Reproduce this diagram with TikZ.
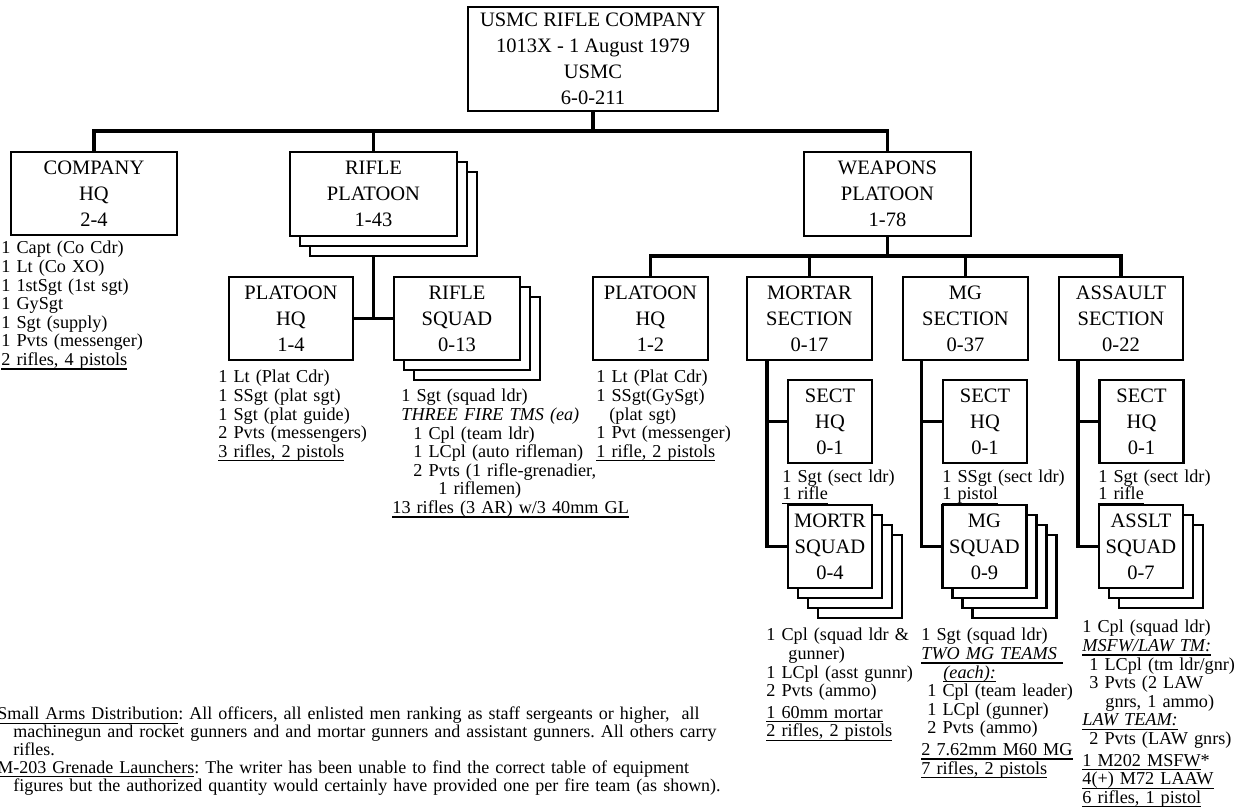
\documentclass[tikz,border=0pt]{standalone}
\usepackage{fontspec}
\setmainfont{Liberation Serif}
\usetikzlibrary{shadows}
\frenchspacing

\newcommand{\undr}[1]{\leavevmode\begingroup\setbox0\hbox{#1}\rlap{\vrule height -1.4pt depth 2pt width \wd0}\box0\endgroup}

\tikzset{
  unitbox/.style={draw, line width=1.1pt, fill=white, align=center, inner sep=0pt,
    minimum height=41.5pt, font=\fontsize{10.25}{13}\selectfont},
  stacktwo/.style={general shadow={shadow xshift=10pt, shadow yshift=-10pt, draw, fill=white},
    general shadow={shadow xshift=5pt, shadow yshift=-5pt, draw, fill=white}},
  stackthree/.style={general shadow={shadow xshift=15pt, shadow yshift=-15pt, draw, fill=white}, stacktwo},
  link/.style={line width=1.7pt},
  roster/.style={anchor=base west, inner sep=0pt, align=left, text width=90pt,
    font=\fontsize{9.1}{9.3}\selectfont},
}

\begin{document}
\begin{tikzpicture}[x=0.5pt,y=-0.5pt]
\useasboundingbox (0,0) rectangle (1239,807);

% company and platoons
\node[unitbox, minimum width=125pt, minimum height=52pt] (top) at (593,59) {USMC RIFLE COMPANY\\1013X - 1 August 1979\\USMC\\6-0-211};
\node[unitbox, minimum width=83pt] (cohq) at (94,193.5) {COMPANY\\HQ\\2-4};
\node[unitbox, stacktwo, minimum width=83.5pt, minimum height=42pt] (rplt) at (373.5,194) {RIFLE\\PLATOON\\1-43};
\node[unitbox, minimum width=83.5pt, minimum height=42pt] (wplt) at (887.5,194) {WEAPONS\\PLATOON\\1-78};

% rifle platoon
\node[unitbox, minimum width=62pt] (plthq) at (291,318.5) {PLATOON\\HQ\\1-4};
\node[unitbox, stacktwo, minimum width=63pt] (rsqd) at (457,318.5) {RIFLE\\SQUAD\\0-13};

% weapons platoon
\node[unitbox, minimum width=57.5pt] (wplthq) at (650.5,318.5) {PLATOON\\HQ\\1-2};
\node[unitbox, minimum width=62.5pt] (mtrsec) at (809.5,318.5) {MORTAR\\SECTION\\0-17};
\node[unitbox, minimum width=62.5pt] (mgsec) at (965.5,318.5) {MG\\SECTION\\0-37};
\node[unitbox, minimum width=62pt] (asltsec) at (1121,318.5) {ASSAULT\\SECTION\\0-22};

\node[unitbox, minimum width=42pt] (mtrhq) at (830,421.5) {SECT\\HQ\\0-1};
\node[unitbox, minimum width=42pt] (mghq) at (985,421.5) {SECT\\HQ\\0-1};
\node[unitbox, minimum width=42pt] (aslthq) at (1141.5,421.5) {SECT\\HQ\\0-1};

\node[unitbox, stackthree, minimum width=42pt] (mtrsqd) at (830,546.5) {MORTR\\SQUAD\\0-4};
\node[unitbox, stackthree, minimum width=42pt] (mgsqd) at (984.5,546.5) {MG\\SQUAD\\0-9};
\node[unitbox, stacktwo, minimum width=42pt] (asltsqd) at (1141,546.5) {ASSLT\\SQUAD\\0-7};

% connectors
\coordinate (cobus) at (top.south |- 0,131);
\draw[link] (top.south) -- (cobus);
\draw[link] (cohq.north) |- (cobus) -| (wplt.north);
\draw[link] (rplt.north) -- (rplt.north |- cobus);

\draw[link] ([yshift=-10pt]rplt.south) -- (rplt.south |- plthq.east);
\draw[link] (plthq.east) -- (rsqd.west);

\coordinate (wbus) at (wplt.south |- 0,256);
\draw[link] (wplt.south) -- (wbus);
\draw[link] (wplthq.north) |- (wbus) -| (asltsec.north);
\draw[link] (mtrsec.north) -- (mtrsec.north |- wbus);
\draw[link] (mgsec.north) -- (mgsec.north |- wbus);

\coordinate (mtrtrunk) at ([xshift=-10pt]mtrsqd.west |- mtrsec.south);
\coordinate (mgtrunk) at ([xshift=-10pt]mgsqd.west |- mgsec.south);
\coordinate (aslttrunk) at ([xshift=-10pt]asltsqd.west |- asltsec.south);
\draw[link] (mtrtrunk) |- (mtrsqd.west);
\draw[link] (mtrtrunk |- mtrhq.west) -- (mtrhq.west);
\draw[link] (mgtrunk) |- (mgsqd.west);
\draw[link] (mgtrunk |- mghq.west) -- (mghq.west);
\draw[link] (aslttrunk) |- (asltsqd.west);
\draw[link] (aslttrunk |- aslthq.west) -- (aslthq.west);

% rosters
\node[roster] (cohqlist) at (1,254) {1 Capt (Co Cdr)\\1 Lt (Co XO)\\1 1stSgt (1st sgt)\\1 GySgt\\1 Sgt (supply)\\1 Pvts (messenger)\\\undr{2 rifles, 4 pistols}};
\node[roster] (plthqlist) at (218,383) {1 Lt (Plat Cdr)\\1 SSgt (plat sgt)\\1 Sgt (plat guide)\\2 Pvts (messengers)\\\undr{3 rifles, 2 pistols}};
\node[roster, text width=110pt] (rsqdlist) at (392,402) {\hspace*{4.5pt}1 Sgt (squad ldr)\\
  \hspace*{4.5pt}\textit{THREE FIRE TMS (ea)}\\
  \hspace*{10.5pt}1 Cpl (team ldr)\\
  \hspace*{10.5pt}1 LCpl (auto rifleman)\\
  \hspace*{10.5pt}2 Pvts (1 rifle-grenadier,\\
  \hspace*{23pt}1 riflemen)\\
  \undr{13 rifles (3 AR) w/3 40mm GL}};
\node[roster] (wplthqlist) at (596,383) {1 Lt (Plat Cdr)\\1 SSgt(GySgt)\\\hspace*{6.5pt}(plat sgt)\\1 Pvt (messenger)\\\undr{1 rifle, 2 pistols}};

\node[roster, font=\fontsize{9.1}{8.4}\selectfont] (mtrhqlist) at (782,483) {1 Sgt (sect ldr)\\\undr{1 rifle}};
\node[roster, font=\fontsize{9.1}{8.4}\selectfont] (mghqlist) at (942,483) {1 SSgt (sect ldr)\\\undr{1 pistol}};
\node[roster, font=\fontsize{9.1}{8.4}\selectfont] (aslthqlist) at (1098,483) {1 Sgt (sect ldr)\\\undr{1 rifle}};

\node[roster] (mtrsqdlist) at (766,641) {1 Cpl (squad ldr \&\\
  \hspace*{11pt}gunner)\\
  1 LCpl (asst gunnr)\\
  2 Pvts (ammo)\\[1.5pt]
  \undr{1 60mm mortar}\\
  \undr{2 rifles, 2 pistols}};
\node[roster] (mgsqdlist) at (921,641) {1 Sgt (squad ldr)\\
  \undr{\textit{TWO MG TEAMS\ }}\\
  \hspace*{11pt}\undr{\textit{(each):}}\\
  \hspace*{3pt}1 Cpl (team leader)\\
  \hspace*{3pt}1 LCpl (gunner)\\
  \hspace*{3pt}2 Pvts (ammo)\\[1.5pt]
  \undr{2 7.62mm M60 MG}\\
  \undr{7 rifles, 2 pistols}};
\node[roster] (asltsqdlist) at (1082,633) {1 Cpl (squad ldr)\\
  \undr{\textit{MSFW/LAW TM:}}\\
  \hspace*{3.5pt}1 LCpl (tm ldr/gnr)\\
  \hspace*{3.5pt}3 Pvts (2 LAW\\
  \hspace*{11.5pt}gnrs, 1 ammo)\\
  \undr{\textit{LAW TEAM:}}\\
  \hspace*{3.5pt}2 Pvts (LAW gnrs)\\[1.5pt]
  \undr{1 M202 MSFW}*\\
  \undr{4(+) M72 LAAW}\\
  \undr{6 rifles, 1 pistol}};

% notes
\node[roster, text width=400pt, font=\fontsize{9}{8.9}\selectfont] (notes) at (-3,720) {\undr{Small Arms Distribution}: All officers, all enlisted men ranking as staff sergeants or higher,\ \ all\\
  \hspace*{8pt}machinegun and rocket gunners and and mortar gunners and assistant gunners. All others carry\\
  \hspace*{8pt}rifles.\\
  \undr{M-203 Grenade Launchers}: The writer has been unable to find the correct table of equipment\\
  \hspace*{8pt}figures but the authorized quantity would certainly have provided one per fire team (as shown).};
\end{tikzpicture}
\end{document}
